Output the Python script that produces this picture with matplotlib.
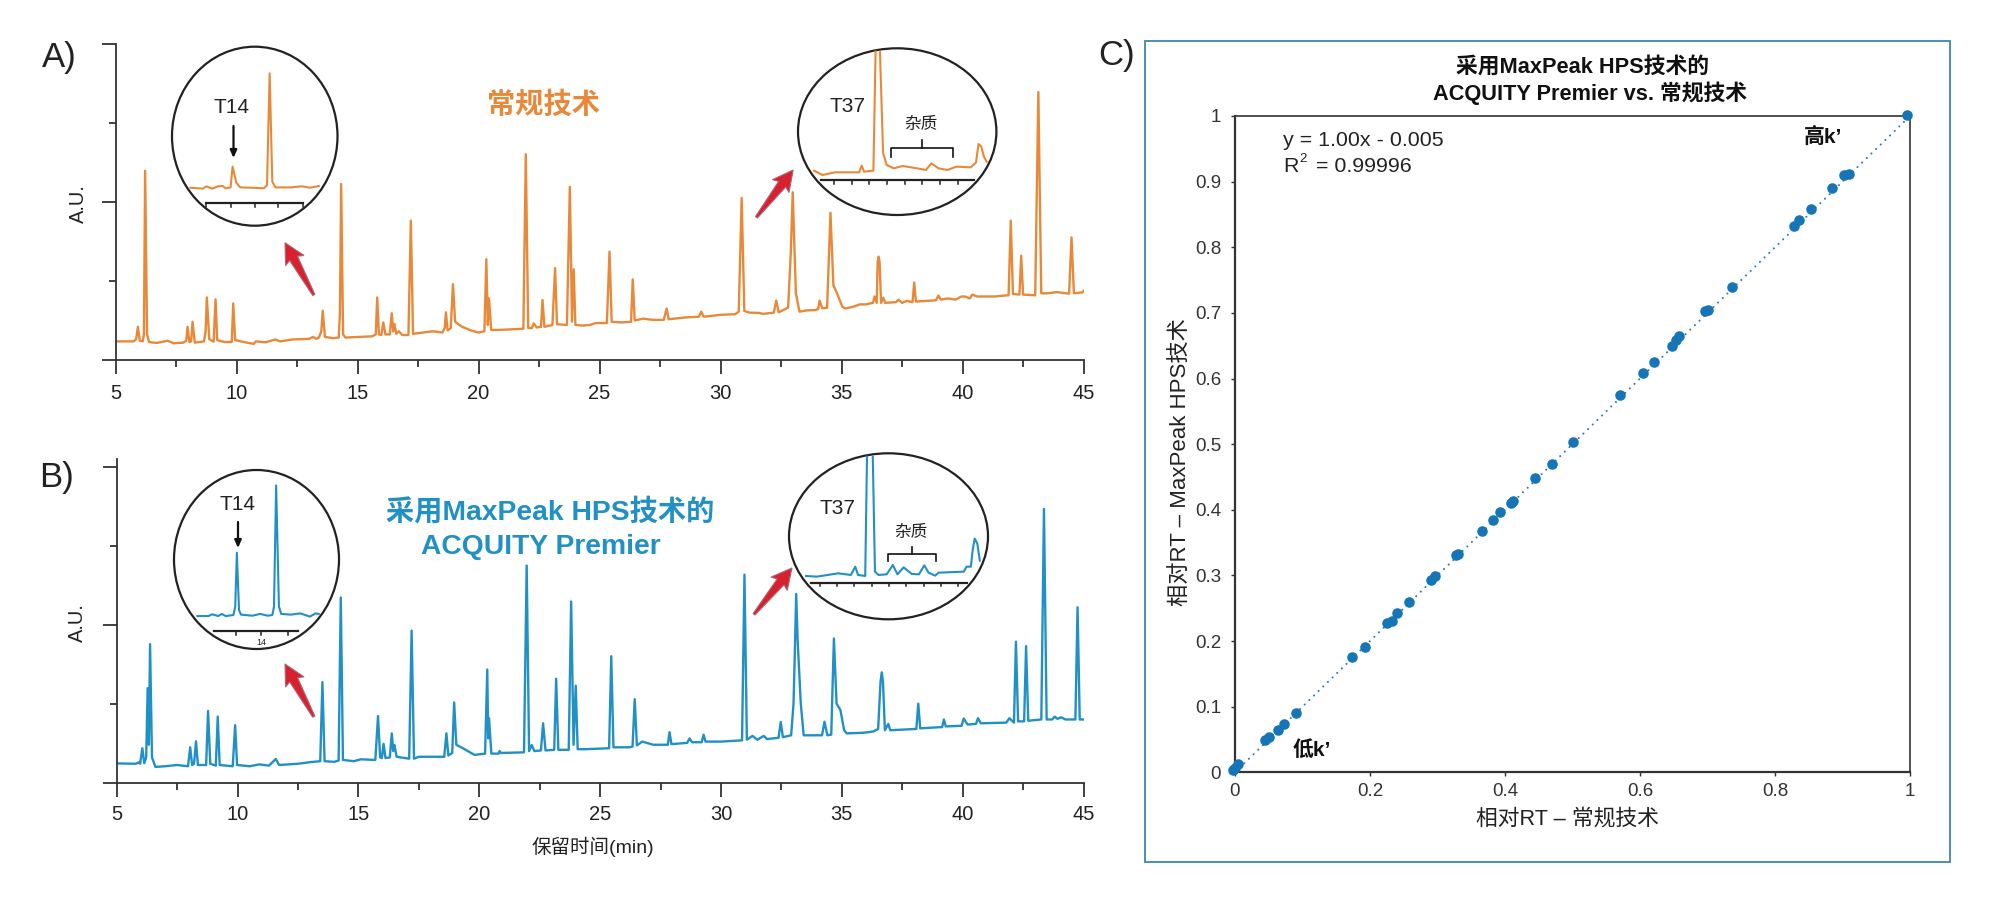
import numpy as np
import matplotlib
matplotlib.use("Agg")
import matplotlib.pyplot as plt
from matplotlib.patches import Ellipse, Rectangle, Polygon
from matplotlib.ticker import MultipleLocator, NullFormatter

plt.rcParams['font.family'] = ['Liberation Sans', 'Noto Sans CJK SC', 'DejaVu Sans']
plt.rcParams['axes.unicode_minus'] = False

# Data: chromatogram A (retention time, response)
a_time = [5.0, 5.75, 5.85, 5.92, 6.0, 6.12, 6.17, 6.22, 6.3, 6.38, 6.7, 7.15, 7.4, 7.8, 7.92, 7.97, 8.05, 8.12, 8.18, 8.27,
          8.65, 8.72, 8.77, 8.87, 9.05, 9.13, 9.2, 9.5, 9.8, 9.86, 9.94, 10.3, 10.7, 10.8, 11.2, 11.6, 11.8, 12.3, 13.0, 13.15,
          13.3, 13.4, 13.5, 13.56, 13.65, 14.0, 14.22, 14.27, 14.32, 14.4, 14.5, 15.1, 15.6, 15.75, 15.81, 15.88, 15.98, 16.06, 16.15, 16.33,
          16.41, 16.47, 16.52, 16.6, 16.7, 16.85, 17.1, 17.2, 17.29, 17.9, 18.1, 18.5, 18.6, 18.65, 18.72, 18.85, 18.94, 19.03, 19.3, 19.7,
          20.0, 20.24, 20.32, 20.38, 20.43, 20.52, 20.8, 21.3, 21.85, 21.95, 22.05, 22.2, 22.28, 22.4, 22.58, 22.64, 22.72, 23.05, 23.16, 23.24,
          23.65, 23.77, 23.86, 23.93, 24.0, 24.3, 24.6, 24.85, 25.3, 25.41, 25.5, 25.9, 26.3, 26.37, 26.45, 26.8, 27.2, 27.65, 27.77, 27.85,
          28.6, 29.1, 29.2, 29.3, 30.0, 30.6, 30.75, 30.87, 30.98, 31.2, 31.6, 31.75, 32.2, 32.3, 32.4, 32.79, 32.9, 32.98, 33.04, 33.11,
          33.26, 33.55, 33.9, 34.03, 34.09, 34.2, 34.4, 34.54, 34.66, 34.81, 35.03, 35.15, 35.5, 35.75, 36.0, 36.3, 36.36, 36.45, 36.49, 36.53,
          36.57, 36.63, 36.72, 36.8, 37.25, 37.35, 37.5, 37.7, 37.93, 38.0, 38.07, 38.9, 39.0, 39.1, 39.4, 39.7, 39.95, 40.1, 40.3, 40.4, 40.6, 41.3,
          41.9, 41.99, 42.08, 42.35, 42.42, 42.5, 43.0, 43.13, 43.25, 43.5, 43.9, 44.4, 44.5, 44.6, 44.95, 45.0]
a_resp = [5.8, 5.8, 6.5, 10.4, 6.0, 5.8, 8.0, 59.8, 8.0, 5.6, 5.3, 6.0, 5.2, 5.4, 6.0, 10.4, 5.6, 5.8, 12.0, 5.4,
          5.8, 9.0, 19.7, 6.5, 5.7, 19.1, 6.2, 5.6, 5.6, 17.8, 6.2, 5.6, 5.0, 5.8, 5.5, 6.4, 5.8, 6.4, 6.6, 7.2,
          6.6, 7.0, 9.0, 15.5, 7.2, 6.8, 7.0, 15.0, 55.6, 8.0, 7.0, 7.2, 7.4, 8.0, 19.7, 8.0, 7.8, 11.8, 8.0, 8.0,
          14.7, 9.0, 11.3, 8.2, 9.0, 7.8, 7.8, 44.0, 8.2, 8.8, 9.0, 8.6, 10.0, 15.0, 9.3, 10.0, 23.9, 12.0, 10.5, 9.2,
          8.6, 9.0, 31.8, 11.0, 19.4, 9.4, 9.4, 9.6, 9.8, 65.0, 10.0, 10.0, 11.5, 10.2, 10.4, 18.9, 10.4, 11.0, 29.0, 11.2,
          11.0, 54.7, 12.0, 28.6, 11.0, 10.8, 11.0, 11.6, 11.6, 34.2, 12.0, 11.8, 12.0, 25.4, 12.4, 13.0, 12.6, 12.6, 16.2, 12.8,
          13.4, 13.6, 15.2, 13.6, 14.2, 14.4, 15.2, 51.2, 15.4, 14.9, 14.8, 14.5, 14.9, 18.7, 15.0, 16.5, 33.7, 53.0, 38.0, 21.0,
          15.2, 15.6, 15.7, 16.0, 18.7, 16.3, 16.4, 46.5, 23.6, 21.0, 16.8, 16.2, 16.8, 17.5, 17.5, 18.0, 20.0, 18.0, 31.0, 32.6,
          31.0, 18.0, 19.6, 18.0, 18.2, 19.0, 18.0, 18.6, 18.2, 24.4, 18.4, 18.8, 20.3, 19.0, 19.4, 19.0, 20.0, 20.0, 19.4, 20.6, 20.0, 20.0,
          20.4, 44.0, 20.8, 20.6, 32.9, 20.6, 20.4, 84.7, 21.0, 21.0, 21.4, 20.9, 38.7, 21.0, 21.3, 21.8]

# Data: chromatogram B
b_time = [5.0, 5.8, 5.9, 5.97, 6.06, 6.14, 6.22, 6.28, 6.33, 6.38, 6.46, 6.6, 7.0, 7.5, 7.95, 8.04, 8.12, 8.2, 8.28, 8.36,
          8.7, 8.78, 8.87, 9.1, 9.18, 9.26, 9.8, 9.9, 9.98, 10.5, 10.9, 11.3, 11.58, 11.72, 12.5, 13.0, 13.42, 13.51, 13.6, 14.0,
          14.18, 14.27, 14.36, 14.8, 15.1, 15.7, 15.81, 15.9, 15.97, 16.04, 16.12, 16.3, 16.38, 16.44, 16.49, 16.58, 17.1, 17.2, 17.3, 17.5,
          18.2, 18.55, 18.64, 18.72, 18.88, 18.96, 19.05, 19.3, 19.8, 20.24, 20.33, 20.37, 20.4, 20.5, 20.8, 20.84, 20.9, 21.85, 21.96, 22.06,
          22.17, 22.28, 22.55, 22.64, 22.74, 23.1, 23.18, 23.27, 23.7, 23.8, 23.9, 23.99, 24.07, 24.4, 25.37, 25.46, 25.55, 26.2, 26.34, 26.43,
          26.52, 26.74, 27.2, 27.8, 27.87, 27.95, 28.6, 28.7, 28.8, 29.2, 29.28, 29.36, 30.0, 30.87, 30.97, 31.07, 31.3, 31.5, 31.77, 31.9,
          32.38, 32.47, 32.56, 32.9, 33.0, 33.05, 33.11, 33.17, 33.3, 33.42, 34.18, 34.28, 34.4, 34.56, 34.67, 34.78, 34.94, 35.09, 35.2, 35.9, 36.3, 36.5, 36.6, 36.65,
          36.7, 36.78, 36.92, 37.0, 37.5, 38.08, 38.16, 38.24, 39.15, 39.22, 39.3, 39.95, 40.04, 40.2, 40.55, 40.63, 40.75, 41.8, 41.93, 42.12, 42.2,
          42.29, 42.54, 42.62, 42.71, 43.25, 43.36, 43.47, 43.7, 43.8, 43.92, 44.07, 44.25, 44.66, 44.75, 44.84, 45.0]
b_resp = [6.1, 6.0, 6.4, 6.0, 10.9, 6.2, 8.0, 29.9, 12.0, 43.8, 8.0, 5.0, 5.2, 5.6, 5.2, 11.2, 5.6, 6.0, 13.1, 5.6,
          5.6, 22.7, 6.0, 5.4, 20.9, 5.6, 5.2, 18.2, 5.6, 5.2, 5.8, 5.4, 7.5, 5.6, 6.0, 6.5, 6.8, 31.8, 6.8, 6.6,
          7.0, 58.6, 7.2, 6.8, 7.4, 7.2, 21.1, 8.0, 7.8, 12.3, 7.8, 8.0, 15.6, 10.0, 11.9, 8.2, 7.6, 48.1, 7.6, 8.2,
          8.2, 8.2, 15.6, 8.6, 9.4, 25.4, 12.0, 11.0, 8.8, 9.2, 35.8, 14.0, 20.4, 9.2, 9.2, 10.0, 9.4, 9.6, 68.7, 10.0,
          11.9, 10.0, 10.2, 18.8, 10.2, 10.4, 32.9, 10.4, 10.4, 57.3, 12.0, 30.7, 10.6, 10.6, 10.9, 40.0, 11.2, 11.2, 11.4, 26.4,
          11.8, 13.0, 12.0, 12.0, 16.0, 12.2, 12.6, 14.0, 12.8, 12.8, 15.2, 13.0, 13.0, 13.4, 65.8, 13.6, 14.8, 13.6, 14.8, 13.8,
          14.2, 19.2, 14.4, 15.0, 25.0, 40.0, 59.7, 45.0, 25.0, 15.0, 15.0, 19.3, 15.0, 15.2, 45.6, 25.0, 23.0, 16.7, 15.6, 15.8, 16.2, 17.0, 32.0, 34.9,
          32.0, 16.6, 18.6, 16.6, 16.8, 17.0, 25.0, 17.2, 17.6, 20.0, 17.8, 18.0, 20.3, 18.4, 18.6, 20.4, 18.8, 19.0, 20.4, 19.0, 44.6,
          19.4, 19.4, 43.2, 19.6, 20.0, 86.6, 20.0, 20.0, 20.9, 20.2, 20.7, 20.0, 20.0, 55.5, 20.0, 20.0]

# Data: zoomed circles, in percent of each circle's box
t14_a_x = [11.1, 18.5, 20.8, 24.3, 27.8, 30.6, 32.4, 35.4, 36.6, 38.9, 41.2, 48.6, 55.6, 57.4, 59.0, 60.6, 62.5, 71.8, 78.7, 83.3, 88.7]
t14_a_y = [21.2, 20.7, 22.0, 20.7, 22.0, 22.2, 20.9, 21.4, 33.0, 24.0, 21.4, 21.2, 20.9, 22.7, 85.1, 24.6, 21.4, 21.4, 22.0, 21.2, 22.2]
t14_b_x = [14.2, 20.9, 23.2, 26.7, 29.0, 31.3, 36.0, 37.1, 38.1, 39.4, 40.6, 47.6, 52.2, 56.8, 59.6, 60.6, 61.9, 63.6, 65.0, 70.8, 76.6, 82.4, 85.8, 87.7]
t14_b_y = [18.4, 18.4, 19.4, 18.4, 19.6, 18.4, 19.0, 23.6, 53.8, 21.8, 19.2, 18.6, 19.6, 18.6, 19.0, 23.6, 91.4, 23.6, 19.6, 19.2, 19.9, 18.1, 19.9, 19.6]
t37_a_x = [8.1, 12.3, 18.6, 30.8, 32.1, 33.3, 38.0, 39.1, np.nan, 41.3, 42.9, 44.7, 48.3, 52.8, 60.0, 64.5, 67.2, 70.8, 75.3, 79.8, 87.0, 89.7, 91.0, 92.4, 93.7, 95.1]
t37_a_y = [26.6, 24.0, 25.6, 25.6, 29.6, 26.0, 26.6, 98.0, np.nan, 98.0, 37.0, 30.0, 28.0, 29.4, 28.0, 27.0, 31.0, 28.0, 27.0, 29.0, 28.6, 31.4, 42.6, 41.0, 35.0, 32.0]
t37_b_x = [8.6, 14.0, 24.8, 31.1, 33.3, 34.7, 38.3, 39.2, np.nan, 42.1, 43.2, 45.0, 49.1, 52.2, 54.5, 57.6, 61.7, 65.3, 68.0, 70.1, 73.4, 75.2, 87.8, 89.2, 91.4, 92.3, 93.3, 94.6, 95.9]
t37_b_y = [26.1, 25.7, 27.7, 26.7, 31.7, 26.7, 26.1, 98.0, np.nan, 98.0, 28.7, 26.7, 27.1, 32.7, 27.1, 31.3, 27.3, 27.1, 32.5, 28.1, 26.3, 28.1, 28.7, 31.7, 31.7, 41.8, 48.6, 45.8, 35.3]

# Data: relative retention, panel C
rt_conventional = [-0.003, 0.0, 0.005, 0.044, 0.051, 0.063, 0.072, 0.09, 0.174, 0.192, 0.225, 0.232, 0.24, 0.258, 0.291, 0.297, 0.327, 0.331,
                   0.366, 0.382, 0.393, 0.409, 0.412, 0.444, 0.469, 0.501, 0.57, 0.604, 0.62, 0.647, 0.653, 0.658, 0.697, 0.7, 0.737, 0.828, 0.836,
                   0.854, 0.884, 0.902, 0.909, 0.995]
rt_premier = [0.003, 0.007, 0.012, 0.049, 0.054, 0.064, 0.073, 0.091, 0.175, 0.191, 0.228, 0.231, 0.242, 0.259, 0.293, 0.299, 0.331, 0.332,
              0.367, 0.384, 0.396, 0.411, 0.414, 0.448, 0.47, 0.504, 0.575, 0.609, 0.625, 0.65, 0.659, 0.665, 0.703, 0.704, 0.74, 0.832, 0.842,
              0.859, 0.891, 0.91, 0.912, 1.002]
fit_x = [0, 1]
fit_y = [0, 1]

ORANGE = "#e8893a"
BLUE = "#2190c4"
INK = "#222222"
W, H = 2000, 905

fig = plt.figure(figsize=(W / 100, H / 100), dpi=100, facecolor="white")


def px_axes(left, top, right, bottom, **kw):
    return fig.add_axes([left / W, 1 - bottom / H, (right - left) / W, (bottom - top) / H], **kw)


def chromatogram(box, time, resp, color, ymax, pad):
    ax = px_axes(*box)
    ax.plot(time, resp, color=color, lw=1.7, solid_joinstyle="round")
    ax.set_xlim(5, 45)
    ax.set_ylim(0, ymax)
    ax.spines[["top", "right"]].set_visible(False)
    ax.spines[["left", "bottom"]].set_linewidth(1.3)
    ax.spines[["left", "bottom"]].set_color("#333333")
    ax.xaxis.set_major_locator(MultipleLocator(5))
    ax.xaxis.set_minor_locator(MultipleLocator(2.5))
    ax.yaxis.set_major_locator(MultipleLocator(50))
    ax.yaxis.set_minor_locator(MultipleLocator(25))
    ax.yaxis.set_major_formatter(NullFormatter())
    ax.tick_params(axis="both", which="major", length=10, width=1.3, color="#333333")
    ax.tick_params(axis="both", which="minor", length=5, width=1.3, color="#333333")
    ax.tick_params(axis="x", labelsize=14.5, labelcolor=INK, pad=pad)
    return ax


def circle(box, xs, ys, color, ruler_y, ruler_x, ticks, tick_len):
    ax = px_axes(*box, zorder=3)
    ax.set_xlim(0, 100)
    ax.set_ylim(0, 100)
    ax.axis("off")
    ax.add_patch(Ellipse((0.5, 0.5), 1, 1, transform=ax.transAxes, fc="white", ec=INK, lw=1.6, clip_on=False, zorder=1))
    ax.plot(xs, ys, color=color, lw=1.5, zorder=2)
    ax.plot(ruler_x, [ruler_y, ruler_y], color=INK, lw=1.6, zorder=2)
    for t in ticks:
        ax.plot([t, t], [ruler_y, ruler_y - tick_len], color=INK, lw=1.1, zorder=2)
    return ax


chromatogram((115.6, 43.7, 1083.6, 359.7), a_time, a_resp, ORANGE, 100, 7.5)
chromatogram((116.7, 459.3, 1083.6, 782.7), b_time, b_resp, BLUE, 102.3, 6)

circle((172, 46.7, 337.5, 225.7), t14_a_x, t14_a_y, ORANGE, 12.7, [20.8, 79.2], [20.8, 35.4, 50.2, 64.1, 79.2], 2.0)
circle((174, 470, 339, 649), t14_b_x, t14_b_y, BLUE, 9.8, [24.4, 75.4], [37.4, 53, 69], 1.7)
circle((798, 48.3, 996.4, 215), t37_a_x, t37_a_y, ORANGE, 20.8, [11.8, 88.8], [18.1, 27, 36, 44.8, 53.8, 62.7, 71.7, 80.7], 2.2)
circle((789, 453.3, 988, 619.3), t37_b_x, t37_b_y, BLUE, 21.8, [10.9, 89.5], [15.4, 24, 32.9, 41.5, 50.2, 59, 67.9, 76.5, 85], 2.0)

# Panel C
ax_c = px_axes(1235, 116, 1910, 772.3, zorder=2)
ax_c.plot(fit_x, fit_y, color="#2a7aa8", lw=1.5, linestyle=(0, (0.01, 3.1)), dash_capstyle="round", clip_on=False, zorder=2)
ax_c.plot(rt_conventional, rt_premier, "o", color="#1675b6", ms=7.6, mew=0, clip_on=False, zorder=3)
ax_c.set_xlim(0, 1)
ax_c.set_ylim(0, 1)
ax_c.set_xticks([0, 0.2, 0.4, 0.6, 0.8, 1], ["0", "0.2", "0.4", "0.6", "0.8", "1"])
ax_c.set_yticks(np.arange(0, 11) / 10, ["0", "0.1", "0.2", "0.3", "0.4", "0.5", "0.6", "0.7", "0.8", "0.9", "1"])
ax_c.tick_params(axis="both", length=3, width=1, color="#333333", labelsize=13.5, labelcolor="#333333")
ax_c.tick_params(axis="y", pad=7)
ax_c.tick_params(axis="x", pad=5)
for side, lw in [("left", 1.6), ("bottom", 1.6), ("top", 1.2), ("right", 1.2)]:
    ax_c.spines[side].set_linewidth(lw)
    ax_c.spines[side].set_color("#333333")

# Everything placed on the page in pixels
ov = fig.add_axes([0, 0, 1, 1], zorder=5)
ov.set_xlim(0, W)
ov.set_ylim(H, 0)
ov.axis("off")
ov.patch.set_alpha(0)

ov.add_patch(Rectangle((1145, 41), 805, 821.3, fc="none", ec="#3f86ad", lw=1.3))


def label(x, y, s, size=13.5, color=INK, weight="normal", rotation=0, ha="center"):
    ov.text(x, y, s, fontsize=size, color=color, fontweight=weight, rotation=rotation, ha=ha, va="center")


label(59, 57, "A)", 25)
label(57, 477, "B)", 25)
label(1117, 55, "C)", 25)
label(78.5, 203.3, "A.U.", 14.4, rotation=90)
label(77.7, 622.7, "A.U.", 14.4, rotation=90)
label(593, 847, "保留时间(min)", 14)
label(543.7, 105, "常规技术", 20.3, ORANGE, "bold")
label(550, 511.7, "采用MaxPeak HPS技术的", 20.3, BLUE, "bold")
label(540.5, 546.7, "ACQUITY Premier", 20.3, BLUE, "bold")

label(232, 107.7, "T14", 15)
label(238, 504.7, "T14", 15)
label(847.5, 106, "T37", 15)
label(838, 508.3, "T37", 15)
label(920.7, 124.3, "杂质", 12)
label(911, 532.7, "杂质", 12)
label(261, 642, "14", 6.5)

label(1583, 66.7, "采用MaxPeak HPS技术的", 15.7, "#111111", "bold")
label(1590, 93.3, "ACQUITY Premier vs. 常规技术", 15.7, "#111111", "bold")
label(1181, 462, "相对RT – MaxPeak HPS技术", 16, rotation=90)
label(1567.5, 819, "相对RT – 常规技术", 15.7)
label(1283, 140, "y = 1.00x - 0.005", 15.4, ha="left")
label(1283, 166, "R", 15.4, ha="left")
label(1299, 159, "2", 9.5, ha="left")
label(1315.5, 166, "= 0.99996", 15.4, ha="left")
label(1823, 136.7, "高k’", 15, "#111111", "bold")
label(1312, 750, "低k’", 15, "#111111", "bold")

# Small black arrows in the T14 circles
for x, y0, y1 in [(233.5, 126, 158), (238, 522, 548)]:
    ov.annotate("", xy=(x, y1), xytext=(x, y0),
                arrowprops=dict(arrowstyle="-|>,head_length=0.45,head_width=0.2", color="#111111", lw=1.6, shrinkA=0, shrinkB=0))

# Brackets over the impurity region
for x0, x1, xm, y, end, top in [(891.4, 952.9, 921.8, 148.3, 156.7, 140), (887.5, 936.4, 911.8, 553.7, 560.7, 546.7)]:
    ov.plot([x0, x0, x1, x1], [end, y, y, end], color="#111111", lw=1.2)
    ov.plot([xm, xm], [y, top], color="#111111", lw=1.2)


def red_arrow(tail, tip):
    tail, tip = np.array(tail), np.array(tip)
    along = tip - tail
    side = np.array([-along[1], along[0]]) / np.hypot(*along)
    neck = tail + 0.70 * along
    barb = tail + 0.66 * along
    outline = [tail + side * 1.2, neck + side * 4.5, barb + side * 10.5, tip,
               barb - side * 10.5, neck - side * 4.5, tail - side * 1.2]
    ov.add_patch(Polygon(outline, closed=True, fc="#d8202e", ec="#a86a78", lw=0.8, joinstyle="miter"))


# Red arrows pointing at the circles
for tail, tip in [((313.8, 295), (285, 242.7)), ((313.8, 716.7), (285, 664)), ((756.4, 217.3), (793.2, 170)), ((754, 614.3), (792, 568))]:
    red_arrow(tail, tip)

fig.savefig("out.png", dpi=100, facecolor="white")
